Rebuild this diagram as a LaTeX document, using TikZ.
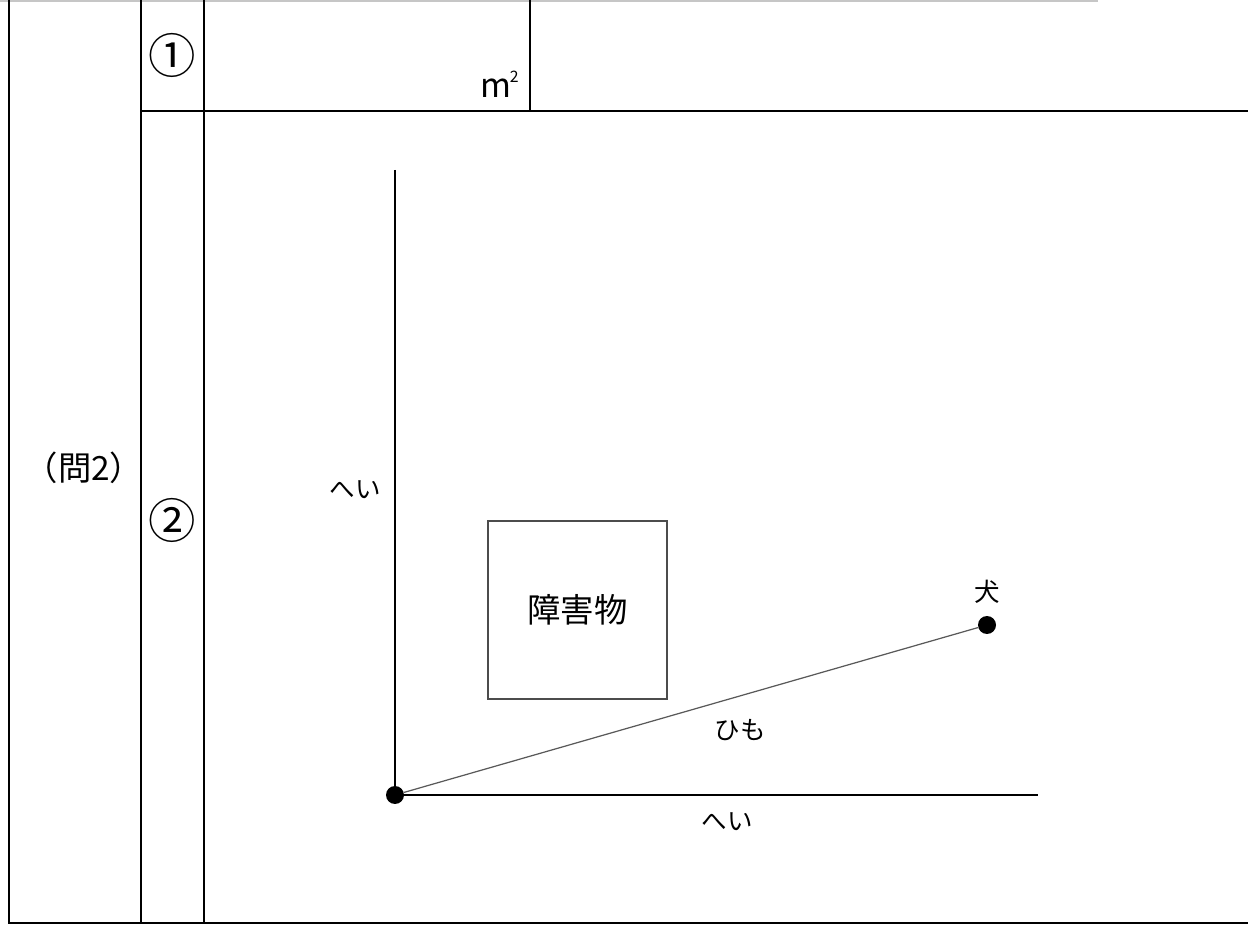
\documentclass[tikz,border=0pt]{standalone}
\usepackage{fontspec}
\setmainfont{Noto Sans CJK JP}
\usetikzlibrary{positioning}

\begin{document}
\begin{tikzpicture}[x=0.02cm, y=-0.02cm,
  main node/.style={inner sep=0pt},
  big text/.style={main node, font=\fontsize{19}{19}\selectfont},
  small text/.style={main node, font=\fontsize{14.5}{14.5}\selectfont},
  circled/.style={main node, font=\fontsize{27}{27}\selectfont},
  dot/.style={circle, fill=black, inner sep=0pt, minimum size=0.36cm},
  frame line/.style={line width=1.2pt},
  wall/.style={line width=1.6pt},
  node distance=0.66cm]
  \useasboundingbox (0,0) rectangle (1248,925);

  % answer sheet
  \draw[gray!45, line width=0.8pt] (0,1) -- (1098,1);
  \draw[frame line] (9,0) -- (9,923) -- (1248,923);
  \draw[frame line] (141,0) -- (141,923);
  \draw[frame line] (204,0) -- (204,923);
  \draw[frame line] (141,111) -- (1248,111);
  \draw[frame line] (530,0) -- (530,111);

  \node[big text] (q2) at (84,468) {（問2）};
  \node[circled] (n1) at (172,55) {①};
  \node[circled] (n2) at (172,520) {②};
  \node[big text, anchor=base east] (unit) at (519,98)
    {m\kern-1pt\raisebox{9pt}{\fontsize{9}{9}\selectfont 2}};

  % walls and dog
  \node[dot] (corner) at (395,795) {};
  \node[dot] (dog) at (987,625) {};
  \coordinate (wallTop) at (395,170);
  \coordinate (wallEnd) at (1038,795);
  \draw[wall] (wallTop) -- (corner.center) -- (wallEnd);
  \draw[gray!70!black, line width=0.7pt] (corner) -- (dog);

  \node[big text, draw=gray!60!black, line width=0.8pt, minimum width=3.58cm, minimum height=3.56cm] (obstacle) at (577.5,610) {障害物};

  \node[small text] (dogLabel) [above of=dog] {犬};
  \node[small text] (leashLabel) at (740,730) {ひも};
  \node[small text] (wallLeft) at (355,490) {へい};
  \node[small text] (wallBottom) at (727,822) {へい};
\end{tikzpicture}
\end{document}
